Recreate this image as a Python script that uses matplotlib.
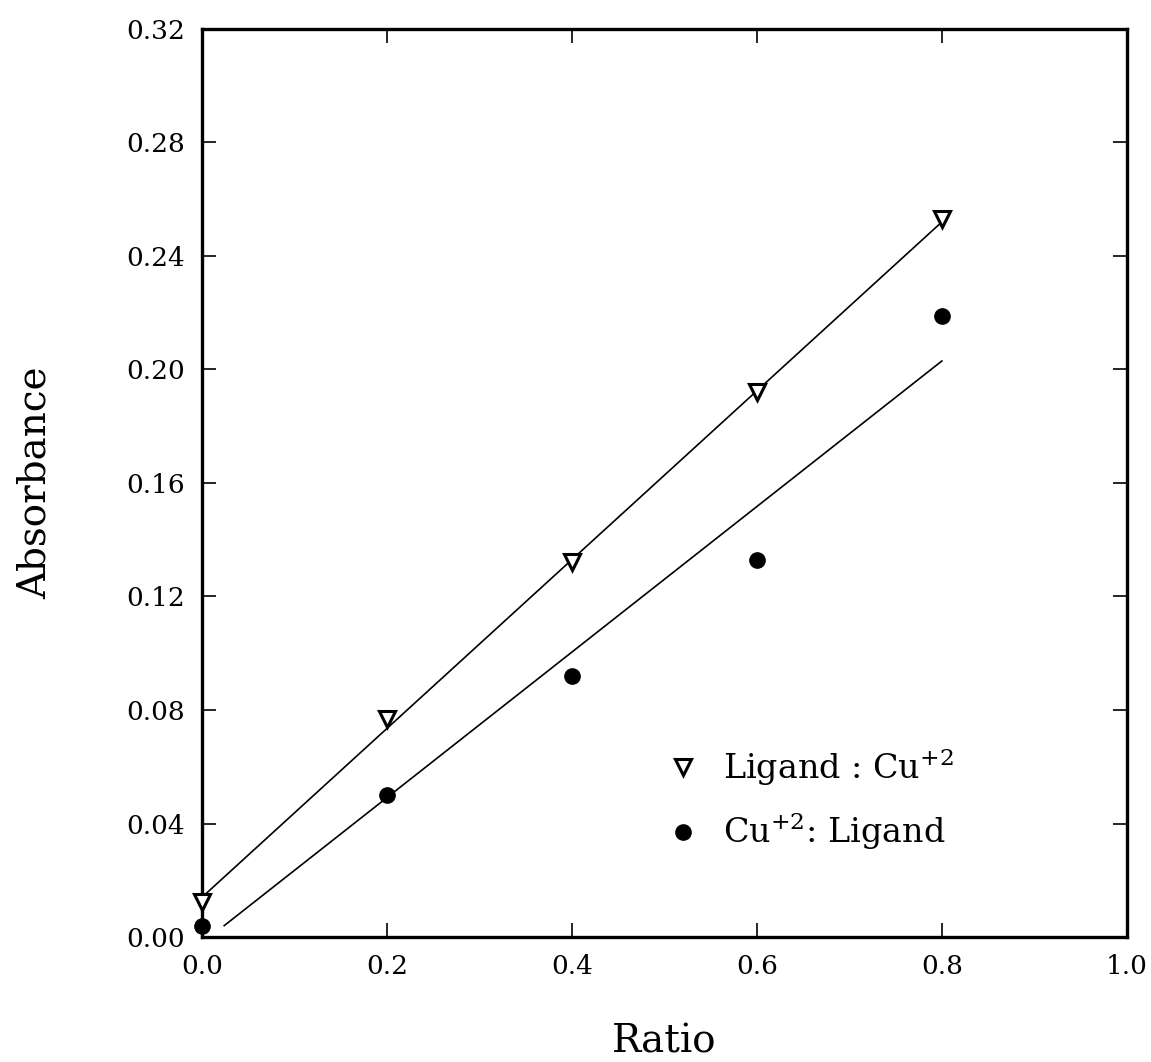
import matplotlib
matplotlib.use("Agg")
import matplotlib.pyplot as plt

ratio = [0.0, 0.2, 0.4, 0.6, 0.8]
ligand_cu = [0.0125, 0.077, 0.132, 0.192, 0.253]
cu_ligand = [0.004, 0.050, 0.092, 0.133, 0.219]

fit1_x = [0.0, 0.8]
fit1_y = [0.014, 0.252]
fit2_x = [0.024, 0.8]
fit2_y = [0.004, 0.203]

xticks = [0.0, 0.2, 0.4, 0.6, 0.8, 1.0]
yticks = [0.00, 0.04, 0.08, 0.12, 0.16, 0.20, 0.24, 0.28, 0.32]

plt.rcParams['font.family'] = ['DejaVu Serif']
plt.rcParams['mathtext.fontset'] = 'dejavuserif'

fig = plt.figure(figsize=(11.51, 10.62), dpi=100)
ax = fig.add_axes([0.1755, 0.1177, 0.8035, 0.855])

ax.plot(fit1_x, fit1_y, color='black', lw=1.2)
ax.plot(fit2_x, fit2_y, color='black', lw=1.2)
ax.plot(ratio, ligand_cu, linestyle='none', marker='v', markersize=11,
        markerfacecolor='white', markeredgecolor='black', markeredgewidth=2.2,
        label='Ligand : Cu$^{+2}$', clip_on=False, zorder=5)
ax.plot(ratio, cu_ligand, linestyle='none', marker='o', markersize=11,
        color='black', label='Cu$^{+2}$: Ligand', clip_on=False, zorder=5)

ax.set_xlim(0, 1.0)
ax.set_ylim(0, 0.32)
ax.set_xticks(xticks)
ax.set_yticks(yticks)
ax.set_xticklabels([f"{v:.1f}" for v in xticks])
ax.set_yticklabels([f"{v:.2f}" for v in yticks])
ax.tick_params(direction='in', length=10, width=1.2, top=True, right=True,
               labelsize=19, pad=12)
for s in ax.spines.values():
    s.set_linewidth(2.4)

ax.set_xlabel('Ratio', fontsize=28, labelpad=32)
ax.set_ylabel('Absorbance', fontsize=28, labelpad=52)

leg = ax.legend(loc='upper left', bbox_to_anchor=(0.488, 0.224), frameon=False,
                fontsize=24, handletextpad=0.7, labelspacing=0.7,
                handlelength=1.0, borderaxespad=0)

fig.savefig('out.png', dpi=100)
